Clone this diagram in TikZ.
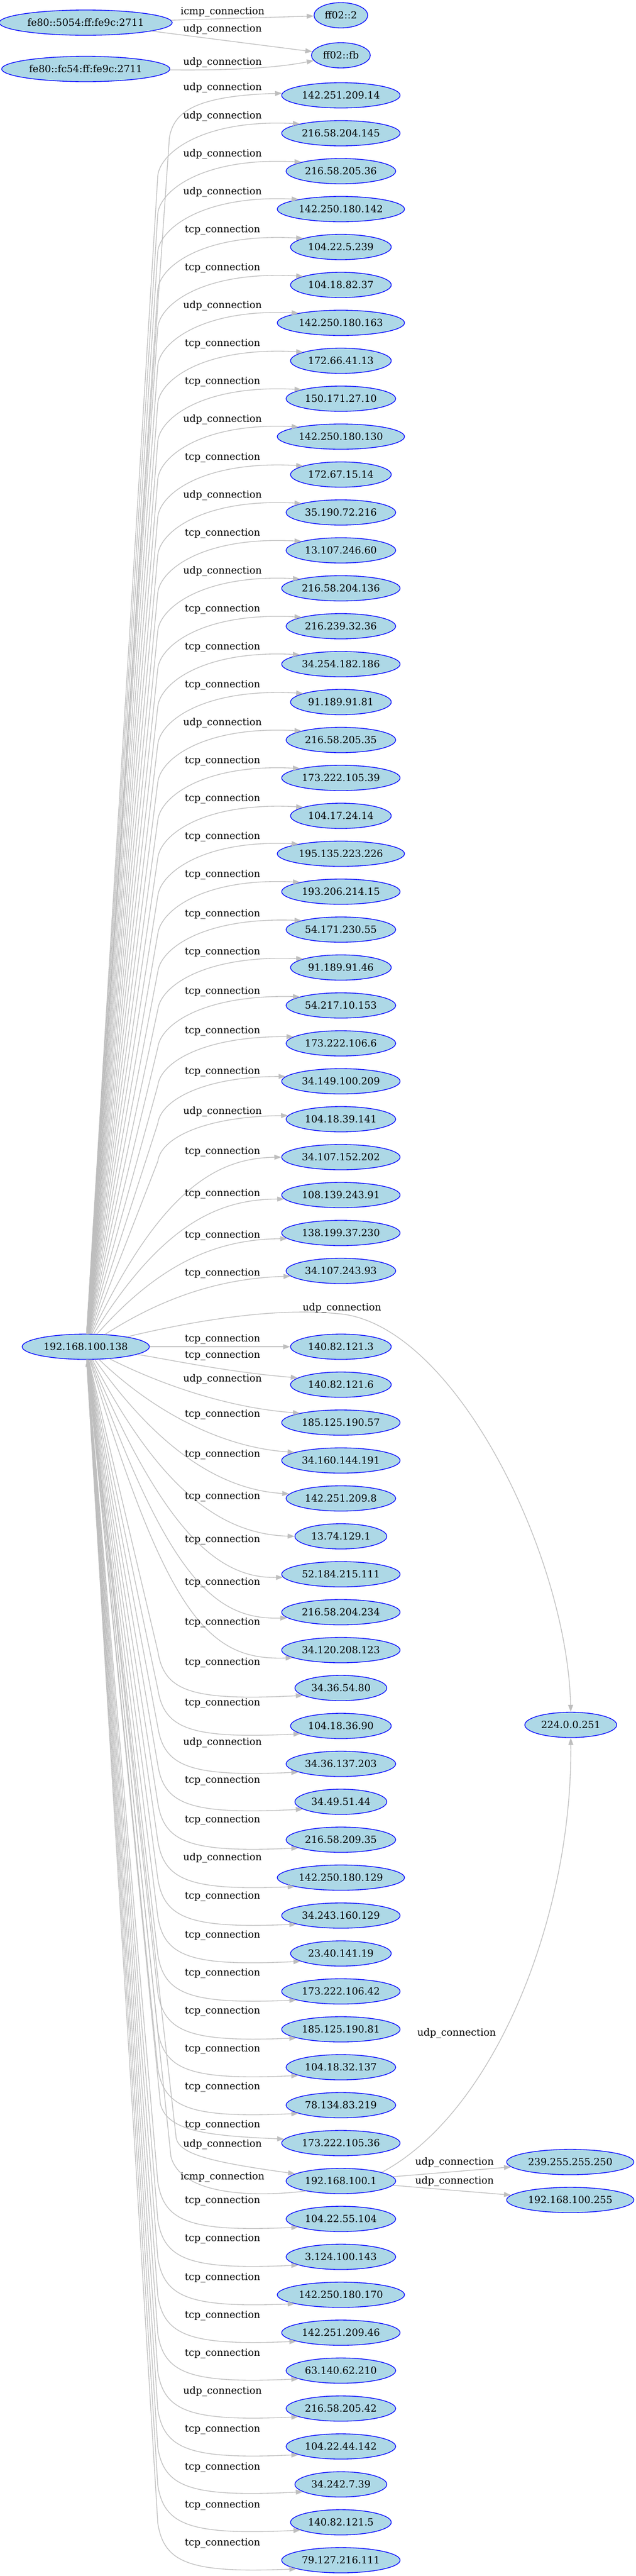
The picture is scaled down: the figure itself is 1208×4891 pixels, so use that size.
\documentclass[tikz,border=0pt]{standalone}
\usepackage{fontspec}
\setmainfont{DejaVu Serif}
\usetikzlibrary{shapes.geometric,arrows.meta}

\begin{document}
\begin{tikzpicture}[x=0.75pt,y=0.75pt,yscale=-1,xscale=1,
  host/.style={ellipse, draw={rgb, 255:red, 0; green, 0; blue, 255}, fill={rgb, 255:red, 173; green, 216; blue, 230}, line width=1pt, inner xsep=4pt, inner ysep=2pt, minimum height=36pt, font=\fontsize{14}{16}\selectfont},
  conn/.style={color={rgb, 255:red, 190; green, 190; blue, 190}, line width=1pt, -{Triangle[length=10pt,width=7pt]}},
  lbl/.style={inner sep=0pt, font=\fontsize{14}{16}\selectfont}]
%uncomment if require: \path (0,4891); %set diagram left start at 0, and has height of 4891
\fill[white] (0,0) rectangle (1208,4891);
\useasboundingbox (0,0) rectangle (1208,4891);

%Shape: Ellipse -- link local hosts
\node[host] (fea) at (163,43) {fe80::5054:ff:fe9c:2711};
\node[host] (feb) at (163,131) {fe80::fc54:ff:fe9c:2711};
\node[host] (ffa) at (648,29) {ff02::2};
\node[host] (ffb) at (648,105) {ff02::fb};

%Shape: Ellipse -- local host and gateway
\node[host] (src) at (163,2557) {192.168.100.138};
\node[host] (gw) at (648,4141) {192.168.100.1};
\node[host] (mdns) at (1085,3275) {224.0.0.251};
\node[host] (ssdp) at (1084,4105) {239.255.255.250};
\node[host] (bcast) at (1084,4177) {192.168.100.255};

%Shape: Ellipse -- remote hosts
\node[host] (r0) at (648,181) {142.251.209.14};
\node[host] (r1) at (648,253) {216.58.204.145};
\node[host] (r2) at (648,325) {216.58.205.36};
\node[host] (r3) at (648,397) {142.250.180.142};
\node[host] (r4) at (648,469) {104.22.5.239};
\node[host] (r5) at (648,541) {104.18.82.37};
\node[host] (r6) at (648,613) {142.250.180.163};
\node[host] (r7) at (648,685) {172.66.41.13};
\node[host] (r8) at (648,757) {150.171.27.10};
\node[host] (r9) at (648,829) {142.250.180.130};
\node[host] (r10) at (648,901) {172.67.15.14};
\node[host] (r11) at (648,973) {35.190.72.216};
\node[host] (r12) at (648,1045) {13.107.246.60};
\node[host] (r13) at (648,1117) {216.58.204.136};
\node[host] (r14) at (648,1189) {216.239.32.36};
\node[host] (r15) at (648,1261) {34.254.182.186};
\node[host] (r16) at (648,1333) {91.189.91.81};
\node[host] (r17) at (648,1405) {216.58.205.35};
\node[host] (r18) at (648,1477) {173.222.105.39};
\node[host] (r19) at (648,1549) {104.17.24.14};
\node[host] (r20) at (648,1621) {195.135.223.226};
\node[host] (r21) at (648,1693) {193.206.214.15};
\node[host] (r22) at (648,1765) {54.171.230.55};
\node[host] (r23) at (648,1837) {91.189.91.46};
\node[host] (r24) at (648,1909) {54.217.10.153};
\node[host] (r25) at (648,1981) {173.222.106.6};
\node[host] (r26) at (648,2053) {34.149.100.209};
\node[host] (r27) at (648,2125) {104.18.39.141};
\node[host] (r28) at (648,2197) {34.107.152.202};
\node[host] (r29) at (648,2269) {108.139.243.91};
\node[host] (r30) at (648,2341) {138.199.37.230};
\node[host] (r31) at (648,2413) {34.107.243.93};
\node[host] (r33) at (648,2557) {140.82.121.3};
\node[host] (r34) at (648,2629) {140.82.121.6};
\node[host] (r35) at (648,2701) {185.125.190.57};
\node[host] (r36) at (648,2773) {34.160.144.191};
\node[host] (r37) at (648,2845) {142.251.209.8};
\node[host] (r38) at (648,2917) {13.74.129.1};
\node[host] (r39) at (648,2989) {52.184.215.111};
\node[host] (r40) at (648,3061) {216.58.204.234};
\node[host] (r41) at (648,3133) {34.120.208.123};
\node[host] (r42) at (648,3205) {34.36.54.80};
\node[host] (r43) at (648,3277) {104.18.36.90};
\node[host] (r44) at (648,3349) {34.36.137.203};
\node[host] (r45) at (648,3421) {34.49.51.44};
\node[host] (r46) at (648,3493) {216.58.209.35};
\node[host] (r47) at (648,3565) {142.250.180.129};
\node[host] (r48) at (648,3637) {34.243.160.129};
\node[host] (r49) at (648,3709) {23.40.141.19};
\node[host] (r50) at (648,3781) {173.222.106.42};
\node[host] (r51) at (648,3853) {185.125.190.81};
\node[host] (r52) at (648,3925) {104.18.32.137};
\node[host] (r53) at (648,3997) {78.134.83.219};
\node[host] (r54) at (648,4069) {173.222.105.36};
\node[host] (r56) at (648,4213) {104.22.55.104};
\node[host] (r57) at (648,4285) {3.124.100.143};
\node[host] (r58) at (648,4357) {142.250.180.170};
\node[host] (r59) at (648,4429) {142.251.209.46};
\node[host] (r60) at (648,4501) {63.140.62.210};
\node[host] (r61) at (648,4573) {216.58.205.42};
\node[host] (r62) at (648,4645) {104.22.44.142};
\node[host] (r63) at (648,4717) {34.242.7.39};
\node[host] (r64) at (648,4789) {140.82.121.5};
\node[host] (r65) at (648,4861) {79.127.216.111};

%Straight Lines -- link local
\draw[conn] (fea) -- (ffa);
\draw[conn] (fea) -- (ffb);
%Curve Lines
\draw[conn] (feb) .. controls (450,134) and (530,128) .. (ffb);

%Curve Lines -- upper fan
\draw[conn] (src) -- (322,261) .. controls (330,218) and (360,182) .. (r0.178);
\draw[conn] (src) -- (300,333) .. controls (305,290) and (385,226) .. (r1.167);
\draw[conn] (src) -- (300,405) .. controls (305,362) and (385,298) .. (r2.167);
\draw[conn] (src) -- (300,477) .. controls (305,434) and (385,370) .. (r3.167);
\draw[conn] (src) -- (300,549) .. controls (305,506) and (385,442) .. (r4.167);
\draw[conn] (src) -- (300,621) .. controls (305,578) and (385,514) .. (r5.167);
\draw[conn] (src) -- (300,693) .. controls (305,650) and (385,586) .. (r6.167);
\draw[conn] (src) -- (300,765) .. controls (305,722) and (385,658) .. (r7.167);
\draw[conn] (src) -- (300,837) .. controls (305,794) and (385,730) .. (r8.167);
\draw[conn] (src) -- (300,909) .. controls (305,866) and (385,802) .. (r9.167);
\draw[conn] (src) -- (300,981) .. controls (305,938) and (385,874) .. (r10.167);
\draw[conn] (src) -- (300,1053) .. controls (305,1010) and (385,946) .. (r11.167);
\draw[conn] (src) -- (300,1125) .. controls (305,1082) and (385,1018) .. (r12.167);
\draw[conn] (src) -- (300,1197) .. controls (305,1154) and (385,1090) .. (r13.167);
\draw[conn] (src) -- (300,1269) .. controls (305,1226) and (385,1162) .. (r14.167);
\draw[conn] (src) -- (300,1341) .. controls (305,1298) and (385,1234) .. (r15.167);
\draw[conn] (src) -- (300,1413) .. controls (305,1370) and (385,1306) .. (r16.167);
\draw[conn] (src) -- (300,1485) .. controls (305,1442) and (385,1378) .. (r17.167);
\draw[conn] (src) -- (300,1557) .. controls (305,1514) and (385,1450) .. (r18.167);
\draw[conn] (src) -- (300,1629) .. controls (305,1586) and (385,1522) .. (r19.167);
\draw[conn] (src) -- (300,1701) .. controls (305,1658) and (385,1594) .. (r20.167);
\draw[conn] (src) -- (300,1773) .. controls (305,1730) and (385,1666) .. (r21.167);
\draw[conn] (src) -- (300,1845) .. controls (305,1802) and (385,1741) .. (r22.167);
\draw[conn] (src) -- (300,1917) .. controls (305,1874) and (385,1813) .. (r23.167);
\draw[conn] (src) -- (300,1989) .. controls (305,1946) and (385,1888) .. (r24.168);
\draw[conn] (src) -- (300,2061) .. controls (305,2018) and (385,1967) .. (r25.172);
\draw[conn] (src) -- (300,2133) .. controls (305,2090) and (385,2044) .. (r26.175);
\draw[conn] (src) -- (300,2205) .. controls (305,2162) and (385,2120) .. (r27.176);
\draw[conn] (src) .. controls (310,2247) and (420,2199) .. (r28.180);
\draw[conn] (src) .. controls (310,2319) and (420,2277) .. (r29.184);
\draw[conn] (src) .. controls (310,2391) and (420,2353) .. (r30.186);
\draw[conn] (src) .. controls (310,2463) and (420,2427) .. (r31.186);

%Curve Lines -- multicast
\draw[conn] (src) .. controls (400,2500) and (540,2484) .. (640,2494) .. controls (860,2508) and (1078,2950) .. (mdns.north);

%Curve Lines -- lower fan
\draw[conn] (src) -- (r33);
\draw[conn] (src) .. controls (310,2579) and (430,2605) .. (r34.171);
\draw[conn] (src) .. controls (300,2626) and (430,2673) .. (r35.167);
\draw[conn] (src) .. controls (300,2688) and (430,2749) .. (r36.170);
\draw[conn] (src) .. controls (310,2765) and (430,2829) .. (r37.175);
\draw[conn] (src) .. controls (310,2842) and (430,2913) .. (r38.180);
\draw[conn] (src) .. controls (315,2919) and (420,2997) .. (r39.183);
\draw[conn] (src) .. controls (320,3001) and (410,3076) .. (r40.186);
\draw[conn] (src) .. controls (320,3078) and (400,3153) .. (r41.189);
\draw[conn] (src) -- (300,3135) .. controls (312,3210) and (360,3230) .. (r42.191);
\draw[conn] (src) -- (300,3207) .. controls (312,3282) and (360,3302) .. (r43.191);
\draw[conn] (src) -- (300,3279) .. controls (312,3354) and (360,3374) .. (r44.191);
\draw[conn] (src) -- (300,3351) .. controls (312,3426) and (360,3446) .. (r45.191);
\draw[conn] (src) -- (300,3423) .. controls (312,3498) and (360,3518) .. (r46.191);
\draw[conn] (src) -- (300,3495) .. controls (312,3570) and (360,3590) .. (r47.191);
\draw[conn] (src) -- (300,3567) .. controls (312,3642) and (360,3662) .. (r48.191);
\draw[conn] (src) -- (300,3639) .. controls (312,3714) and (360,3734) .. (r49.191);
\draw[conn] (src) -- (300,3711) .. controls (312,3786) and (360,3806) .. (r50.191);
\draw[conn] (src) -- (300,3783) .. controls (312,3858) and (360,3878) .. (r51.191);
\draw[conn] (src) -- (300,3855) .. controls (312,3930) and (360,3950) .. (r52.191);
\draw[conn] (src) -- (300,3927) .. controls (312,4002) and (360,4022) .. (r53.191);
\draw[conn] (src) -- (305,3995) .. controls (318,4048) and (400,4055) .. (r54.176);
\draw[conn] (src) -- (335,4060) .. controls (342,4090) and (400,4105) .. (gw.171);
\draw[conn] (gw.196) .. controls (480,4172) and (345,4168) .. (325,4095) -- (src);
\draw[conn] (src) -- (300,4143) .. controls (312,4218) and (360,4238) .. (r56.191);
\draw[conn] (src) -- (300,4215) .. controls (312,4290) and (360,4310) .. (r57.191);
\draw[conn] (src) -- (300,4287) .. controls (312,4362) and (360,4382) .. (r58.191);
\draw[conn] (src) -- (300,4359) .. controls (312,4434) and (360,4454) .. (r59.191);
\draw[conn] (src) -- (300,4431) .. controls (312,4506) and (360,4526) .. (r60.191);
\draw[conn] (src) -- (300,4503) .. controls (312,4578) and (360,4598) .. (r61.191);
\draw[conn] (src) -- (300,4575) .. controls (312,4650) and (360,4670) .. (r62.191);
\draw[conn] (src) -- (300,4647) .. controls (312,4722) and (360,4742) .. (r63.191);
\draw[conn] (src) -- (300,4719) .. controls (312,4794) and (360,4814) .. (r64.191);
\draw[conn] (src) -- (300,4791) .. controls (312,4866) and (360,4886) .. (r65.191);

%Curve Lines -- gateway
\draw[conn] (gw.12) .. controls (940,4010) and (1088,3640) .. (mdns.south);
\draw[conn] (gw) -- (ssdp);
\draw[conn] (gw) -- (bcast);

% Text Node
\node[lbl] (la) at (423,23) {icmp\_connection};
\node[lbl] (lb) at (423,56) {udp\_connection};
\node[lbl] (lc) at (423,119) {udp\_connection};
% Text Node
\node[lbl] (l0) at (423,167) {udp\_connection};
\node[lbl] (l1) at (423,221) {udp\_connection};
\node[lbl] (l2) at (423,293) {udp\_connection};
\node[lbl] (l3) at (423,365) {udp\_connection};
\node[lbl] (l4) at (423,437) {tcp\_connection};
\node[lbl] (l5) at (423,509) {tcp\_connection};
\node[lbl] (l6) at (423,581) {udp\_connection};
\node[lbl] (l7) at (423,653) {tcp\_connection};
\node[lbl] (l8) at (423,725) {tcp\_connection};
\node[lbl] (l9) at (423,797) {udp\_connection};
\node[lbl] (l10) at (423,869) {tcp\_connection};
\node[lbl] (l11) at (423,941) {udp\_connection};
\node[lbl] (l12) at (423,1013) {tcp\_connection};
\node[lbl] (l13) at (423,1085) {udp\_connection};
\node[lbl] (l14) at (423,1157) {tcp\_connection};
\node[lbl] (l15) at (423,1229) {tcp\_connection};
\node[lbl] (l16) at (423,1301) {tcp\_connection};
\node[lbl] (l17) at (423,1373) {udp\_connection};
\node[lbl] (l18) at (423,1445) {tcp\_connection};
\node[lbl] (l19) at (423,1517) {tcp\_connection};
\node[lbl] (l20) at (423,1589) {tcp\_connection};
\node[lbl] (l21) at (423,1661) {tcp\_connection};
\node[lbl] (l22) at (423,1736) {tcp\_connection};
\node[lbl] (l23) at (423,1808) {tcp\_connection};
\node[lbl] (l24) at (423,1883) {tcp\_connection};
\node[lbl] (l25) at (423,1958) {tcp\_connection};
\node[lbl] (l26) at (423,2035) {tcp\_connection};
\node[lbl] (l27) at (423,2111) {udp\_connection};
\node[lbl] (l28) at (423,2187) {tcp\_connection};
\node[lbl] (l29) at (423,2267) {tcp\_connection};
\node[lbl] (l30) at (423,2346) {tcp\_connection};
\node[lbl] (l31) at (423,2418) {tcp\_connection};
\node[lbl] (l32) at (650,2484) {udp\_connection};
% Text Node
\node[lbl] (l33) at (423,2543) {tcp\_connection};
\node[lbl] (l34) at (423,2574) {tcp\_connection};
\node[lbl] (l35) at (423,2619) {udp\_connection};
\node[lbl] (l36) at (423,2686) {tcp\_connection};
\node[lbl] (l37) at (423,2762) {tcp\_connection};
\node[lbl] (l38) at (423,2842) {tcp\_connection};
\node[lbl] (l39) at (423,2924) {tcp\_connection};
\node[lbl] (l40) at (423,3005) {tcp\_connection};
\node[lbl] (l41) at (423,3081) {tcp\_connection};
\node[lbl] (l42) at (423,3157) {tcp\_connection};
\node[lbl] (l43) at (423,3234) {tcp\_connection};
\node[lbl] (l44) at (423,3309) {udp\_connection};
\node[lbl] (l45) at (423,3381) {tcp\_connection};
\node[lbl] (l46) at (423,3456) {tcp\_connection};
\node[lbl] (l47) at (423,3528) {udp\_connection};
\node[lbl] (l48) at (423,3601) {tcp\_connection};
\node[lbl] (l49) at (423,3675) {tcp\_connection};
\node[lbl] (l50) at (423,3747) {tcp\_connection};
\node[lbl] (l51) at (423,3819) {tcp\_connection};
\node[lbl] (l52) at (423,3891) {tcp\_connection};
\node[lbl] (l53) at (423,3963) {tcp\_connection};
\node[lbl] (l54) at (423,4035) {tcp\_connection};
\node[lbl] (l55) at (423,4072) {udp\_connection};
\node[lbl] (lic) at (423,4134) {icmp\_connection};
\node[lbl] (l56) at (423,4179) {tcp\_connection};
\node[lbl] (l57) at (423,4251) {tcp\_connection};
\node[lbl] (l58) at (423,4325) {tcp\_connection};
\node[lbl] (l59) at (423,4397) {tcp\_connection};
\node[lbl] (l60) at (423,4469) {tcp\_connection};
\node[lbl] (l61) at (423,4541) {udp\_connection};
\node[lbl] (l62) at (423,4613) {tcp\_connection};
\node[lbl] (l63) at (423,4685) {tcp\_connection};
\node[lbl] (l64) at (423,4757) {tcp\_connection};
\node[lbl] (l65) at (423,4829) {tcp\_connection};
% Text Node
\node[lbl] (lgm) at (868,3861) {udp\_connection};
\node[lbl] (lgs) at (864,4106) {udp\_connection};
\node[lbl] (lgb) at (864,4142) {udp\_connection};

\end{tikzpicture}
\end{document}
